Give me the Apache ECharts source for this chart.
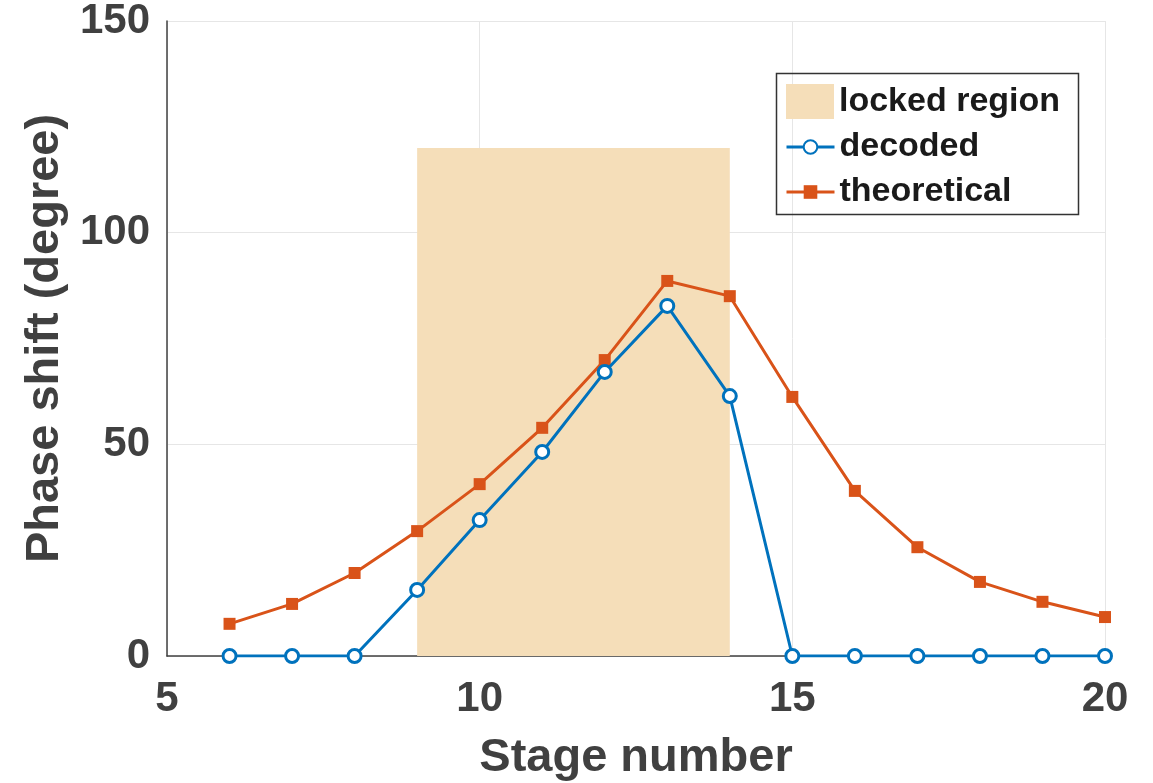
<!DOCTYPE html>
<html>
<head>
<meta charset="utf-8">
<script src="https://cdn.jsdelivr.net/npm/echarts@6/dist/echarts.min.js"></script>
<style>html,body{margin:0;padding:0;background:#fff}#c{width:1153px;height:783px}</style>
</head>
<body>
<div id="c"></div>
<script>
const stages = [6,7,8,9,10,11,12,13,14,15,16,17,18,19,20];
const decoded = [0,0,0,15.6,32.1,48.2,67.1,82.7,61.4,0,0,0,0,0,0];
const theoretical = [7.6,12.3,19.6,29.5,40.6,53.9,69.9,88.6,85.0,61.2,39.0,25.7,17.5,12.8,9.2];
const lockedRegion = [[9,14,120]];
const xTicks = [5,10,15,20];
const yTicks = [0,50,100,150];

const font = 'Liberation Sans, Arial, sans-serif';
const chart = echarts.init(document.getElementById('c'));
chart.setOption({
  animation:false,
  backgroundColor:'#fff',
  grid:{left:167,right:48,top:21,bottom:127,containLabel:false,outerBoundsMode:'none'},
  xAxis:{type:'value',min:xTicks[0],max:xTicks[xTicks.length-1],interval:5,
    name:'Stage number',nameLocation:'middle',nameGap:79,
    nameTextStyle:{fontFamily:font,fontWeight:'bold',fontSize:47,color:'#404040'},
    axisLine:{show:true,onZero:false,lineStyle:{color:'#404040',width:1.5}},
    axisTick:{show:false},
    axisLabel:{fontFamily:font,fontWeight:'bold',fontSize:42,color:'#404040',margin:22},
    splitLine:{show:true,lineStyle:{color:'#e6e6e6',width:1}}},
  yAxis:{type:'value',min:yTicks[0],max:yTicks[yTicks.length-1],interval:50,
    name:'Phase shift (degree)',nameLocation:'middle',nameGap:97,
    nameTextStyle:{fontFamily:font,fontWeight:'bold',fontSize:47,color:'#404040'},
    axisLine:{show:true,lineStyle:{color:'#404040',width:1.5}},
    axisTick:{show:false},
    axisLabel:{fontFamily:font,fontWeight:'bold',fontSize:42,color:'#404040',margin:17},
    splitLine:{show:true,lineStyle:{color:'#e6e6e6',width:1}}},
  legend:[
    {data:[{name:'locked region',icon:'rect'}],left:781,top:79,itemWidth:48,itemHeight:35,
     textStyle:{fontFamily:font,fontWeight:'bold',fontSize:34,color:'#1a1a1a'},selectedMode:false},
    {data:['decoded','theoretical'],orient:'vertical',left:780,top:125,itemWidth:48,itemHeight:17,itemGap:11,
     lineStyle:{width:3},
     textStyle:{fontFamily:font,fontWeight:'bold',fontSize:34,color:'#1a1a1a'},selectedMode:false}
  ],
  graphic:[{type:'rect',left:774,top:71,shape:{width:302,height:141},
    style:{fill:'none',stroke:'#333',lineWidth:1.5},z:100}],
  series:[
    {name:'locked region',type:'custom',data:lockedRegion,
     itemStyle:{color:'#F5DEB9'},z:1,
     renderItem:function(params,api){
       const p0=api.coord([api.value(0),0]);
       const p1=api.coord([api.value(1),api.value(2)]);
       return {type:'rect',shape:{x:p0[0],y:p1[1],width:p1[0]-p0[0],height:p0[1]-p1[1]},
         style:{fill:'#F5DEB9'}};
     }},
    {name:'decoded',type:'line',data:stages.map((s,i)=>[s,decoded[i]]),
     color:'#0072BD',lineStyle:{width:3,color:'#0072BD'},
     symbol:'circle',symbolSize:13,showSymbol:true,
     itemStyle:{color:'#fff',borderColor:'#0072BD',borderWidth:3},z:3},
    {name:'theoretical',type:'line',data:stages.map((s,i)=>[s,theoretical[i]]),
     color:'#D95319',lineStyle:{width:3,color:'#D95319'},
     symbol:'rect',symbolSize:12,
     itemStyle:{color:'#D95319'},z:2}
  ]
});
</script>
</body>
</html>
